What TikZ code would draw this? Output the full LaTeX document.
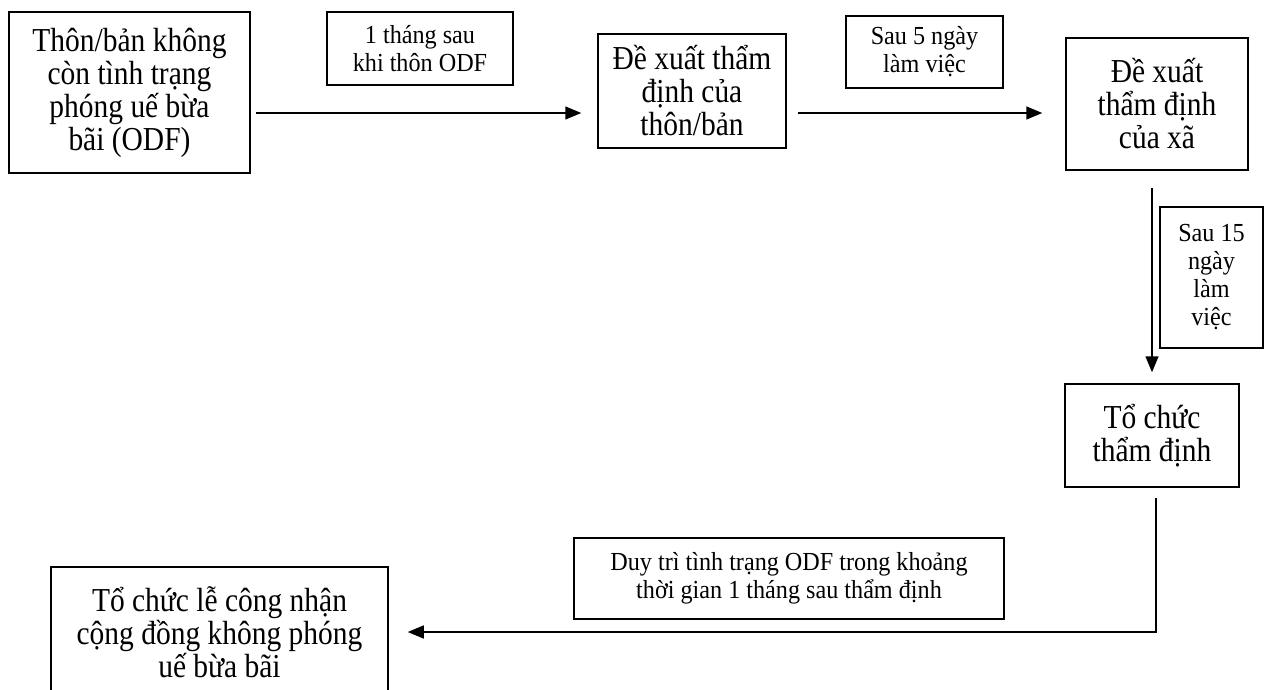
\documentclass[tikz,border=0pt]{standalone}
\usepackage{fontspec}
\setmainfont{Liberation Serif}
\newfontfamily\stepfont[FakeStretch=0.88]{Liberation Serif}
\newfontfamily\notefont[FakeStretch=0.93]{Liberation Serif}
\usetikzlibrary{arrows.meta, positioning, calc}

\begin{document}
\begin{tikzpicture}[x=1pt, y=-1pt,
    box/.style={draw, line width=1.5pt, align=center, inner sep=0pt, font=\stepfont\fontsize{33.5}{33}\selectfont},
    note/.style={draw, line width=1.5pt, align=center, inner sep=0pt, font=\notefont\fontsize{26}{28}\selectfont},
    arrow/.style={line width=1.5pt, -{Triangle[length=16pt, width=13pt]}}]
    % Page: 1264 x 690 (pixel units, y downwards)
    \def\rowy{113}
    \useasboundingbox (0,0) rectangle (1264,690);

    % Steps - centre, width, height taken from the layout
    \node[box, minimum width=241pt, minimum height=161pt] (odf) at (129.5,92.5)
        {Thôn/bản không\\còn tình trạng\\phóng uế bừa\\bãi (ODF)};
    \node[box, minimum width=188pt, minimum height=114pt] (thon) at (692,91)
        {Đề xuất thẩm\\định của\\thôn/bản};
    \node[box, minimum width=182pt, minimum height=132pt] (xa) at (1157,104)
        {Đề xuất\\thẩm định\\của xã};
    \node[box, minimum width=174pt, minimum height=103pt] (tochuc) at (1152,435.5)
        {Tổ chức\\thẩm định};
    \node[box, minimum width=337pt, minimum height=130pt] (congnhan) at (219.5,632)
        {Tổ chức lễ công nhận\\cộng đồng không phóng\\uế bừa bãi};

    % Time notes
    \node[note, minimum width=186pt, minimum height=73pt] (motthang) at (420,48.5)
        {1 tháng sau\\khi thôn ODF};
    \node[note, minimum width=157pt, minimum height=72pt] (namngay) at (924.5,52)
        {Sau 5 ngày\\làm việc};
    \node[note, minimum width=103pt, minimum height=141pt] (muoilam) at (1211.5,277.5)
        {Sau 15\\ngày\\làm\\việc};
    \node[note, minimum width=430pt, minimum height=81pt] (duytri) at (789,578.5)
        {Duy trì tình trạng ODF trong khoảng\\thời gian 1 tháng sau thẩm định};

    % Arrows
    \draw[arrow, shorten <=5pt, shorten >=16pt] (odf.east |- 0,\rowy) -- (thon.west |- 0,\rowy);
    \draw[arrow, shorten <=11pt, shorten >=23pt] (thon.east |- 0,\rowy) -- (xa.west |- 0,\rowy);
    \draw[arrow, shorten <=17pt, shorten >=11pt] (xa.south -| tochuc.north) -- (tochuc.north);
    \draw[arrow, shorten <=10pt, shorten >=19pt] ([xshift=4pt]tochuc.south) |- (congnhan.east);
\end{tikzpicture}
\end{document}
